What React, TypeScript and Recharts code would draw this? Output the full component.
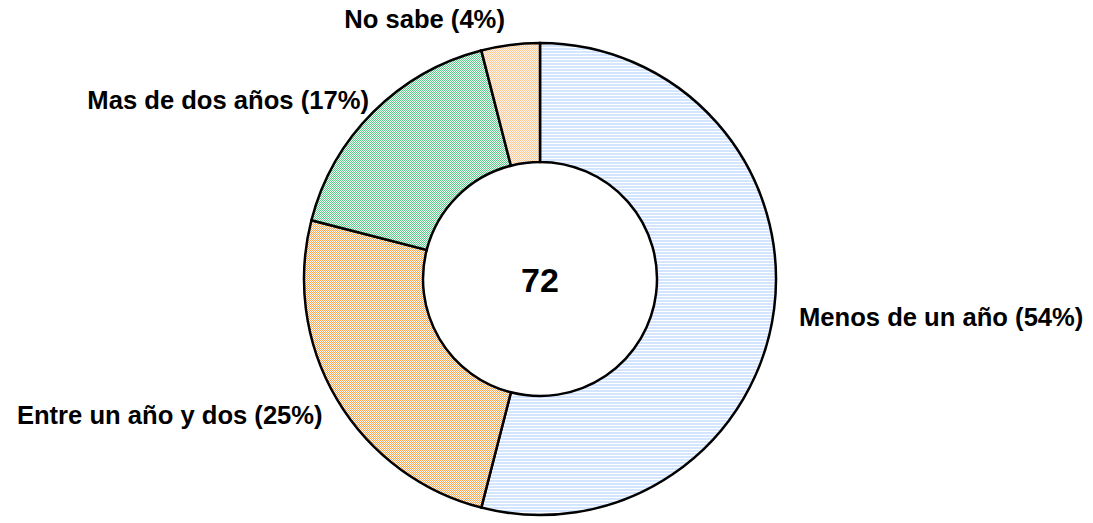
import { PieChart, Pie, Cell } from "recharts";

const CATEGORIES = [
  "Menos de un año",
  "Entre un año y dos",
  "Mas de dos años",
  "No sabe",
];
const PERCENTS = [54, 25, 17, 4];
const TOTAL = 72;

const FILLS = ["url(#pBlue)", "url(#pOrange)", "url(#pGreen)", "url(#pPeach)"];
// small hand nudges for label placement (dx, dy)
const NUDGE = [
  [5, 6],
  [3, 6],
  [10, 2],
  [-3, -6],
];

const data = CATEGORIES.map((name, i) => ({ name, value: PERCENTS[i] }));

const RADIAN = Math.PI / 180;
const FONT = "'Liberation Sans', Arial, sans-serif";

function renderLabel(props: any) {
  const { cx, cy, midAngle, outerRadius, index, name, value } = props;
  const r = outerRadius + 20;
  const cos = Math.cos(-midAngle * RADIAN);
  const sin = Math.sin(-midAngle * RADIAN);
  const x = cx + r * cos + NUDGE[index][0];
  const y = cy + r * sin + NUDGE[index][1];
  return (
    <text
      x={x}
      y={y}
      textAnchor={cos >= 0 ? "start" : "end"}
      dominantBaseline="central"
      fontFamily={FONT}
      fontWeight="bold"
      fontSize={25.6}
      fill="#000"
    >
      {`${name} (${value}%)`}
    </text>
  );
}

// checkerboard tile: 4x4 of 1px cells, "on" where (x+y) is even
function Checker({ id, on, off }: { id: string; on: string; off: string }) {
  const cells = [];
  for (let y = 0; y < 4; y++)
    for (let x = 0; x < 4; x++)
      if ((x + y) % 2 === 0)
        cells.push(<rect key={`${x}-${y}`} x={x} y={y} width={1} height={1} fill={on} />);
  return (
    <pattern id={id} width="4" height="4" patternUnits="userSpaceOnUse">
      <rect width="4" height="4" fill={off} />
      <g shapeRendering="crispEdges">{cells}</g>
    </pattern>
  );
}

export default function App() {
  return (
    <div style={{ position: "absolute", left: 0, top: 0, background: "#fff" }}>
      <PieChart
        width={1093}
        height={523}
        margin={{ top: 0, right: 0, bottom: 0, left: 0 }}
      >
        <defs>
          <pattern id="pBlue" width="4" height="3" patternUnits="userSpaceOnUse">
            <rect width="4" height="3" fill="#ffffff" />
            <rect width="4" height="2" fill="#d4e5ff" shapeRendering="crispEdges" />
          </pattern>
          <Checker id="pOrange" on="#ffa04a" off="#ffffff" />
          <Checker id="pGreen" on="#5ccc88" off="#f2fbf5" />
          <Checker id="pPeach" on="#ffc896" off="#fff6ee" />
        </defs>
        <Pie
          data={data}
          dataKey="value"
          nameKey="name"
          cx={540}
          cy={279}
          innerRadius={117}
          outerRadius={236}
          startAngle={90}
          endAngle={-270}
          stroke="#000"
          strokeWidth={2.5}
          label={renderLabel}
          labelLine={false}
          isAnimationActive={false}
        >
          {data.map((d, i) => (
            <Cell key={d.name} fill={FILLS[i]} />
          ))}
        </Pie>
        <text
          x={540}
          y={280}
          textAnchor="middle"
          dominantBaseline="central"
          fontFamily={FONT}
          fontWeight="bold"
          fontSize={34}
          fill="#000"
        >
          {TOTAL}
        </text>
      </PieChart>
    </div>
  );
}
